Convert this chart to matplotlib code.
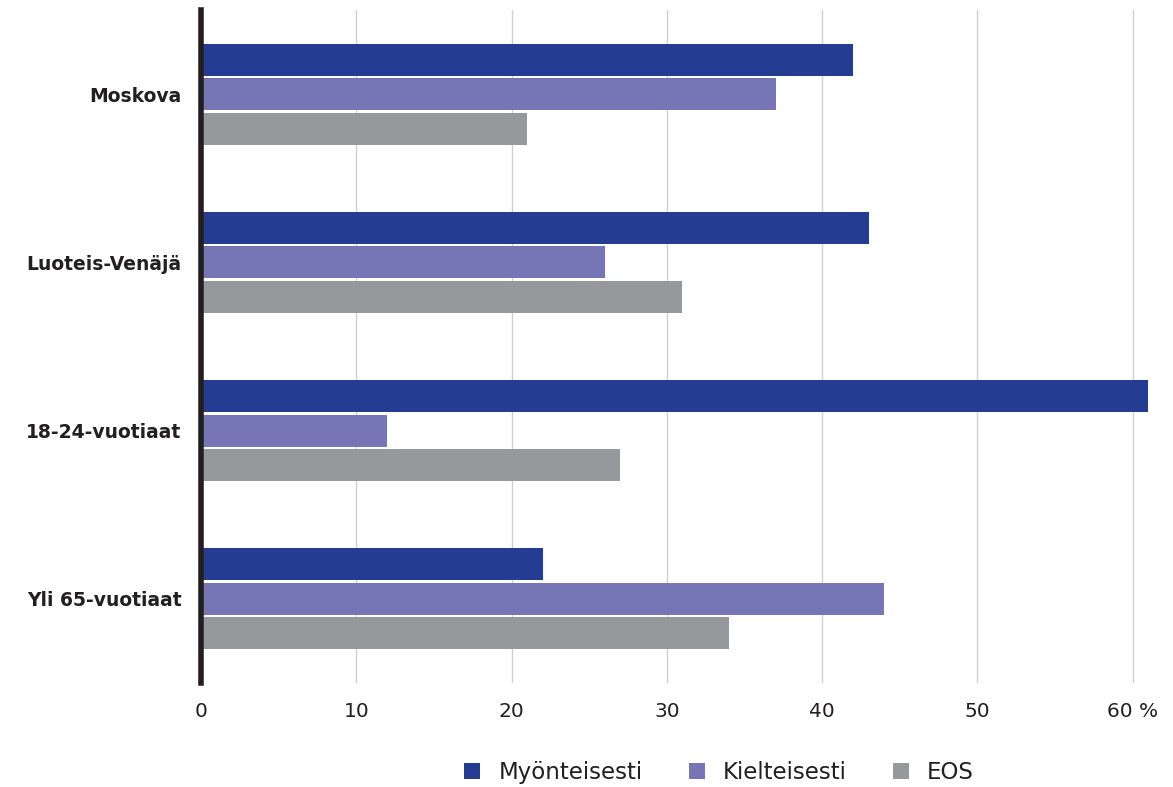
import matplotlib
matplotlib.use("Agg")
import matplotlib.pyplot as plt
import numpy as np

# Data (%)
categories = ["Moskova", "Luoteis-Venäjä", "18-24-vuotiaat", "Yli 65-vuotiaat"]
series_names = ["Myönteisesti", "Kielteisesti", "EOS"]
myonteisesti = [42, 43, 61, 22]
kielteisesti = [37, 26, 12, 44]
eos = [21, 31, 27, 34]
colors = ["#243c92", "#7676b6", "#97989b"]
xticks = [0, 10, 20, 30, 40, 50, 60]
xticklabels = ["0", "10", "20", "30", "40", "50", "60 %"]

plt.rcParams['font.family'] = ['DejaVu Sans']

fig = plt.figure(figsize=(11.73, 7.87), dpi=100)
ax = fig.add_axes([0.1714, 0.1322, 0.826, 0.8551])

y = np.arange(len(categories))
bar_h = 0.19
step = 0.205
for i, (vals, name) in enumerate(zip([myonteisesti, kielteisesti, eos], series_names)):
    ax.barh(y + (i - 1) * step, vals, height=bar_h, color=colors[i], label=name, zorder=3)

ax.set_ylim(3.5, -0.5)
ax.set_xlim(0, 62.4)
ax.set_yticks(y)
ax.set_yticklabels(categories, fontsize=13.5, fontweight='bold', color='#231f20')
ax.set_xticks(xticks)
ax.set_xticklabels(xticklabels, fontsize=14.5, color='#231f20')
ax.tick_params(axis='both', length=0)
ax.tick_params(axis='x', pad=14)
ax.tick_params(axis='y', pad=14)

ax.grid(axis='x', color='#d0d0d0', linewidth=1, zorder=0)
for s in ['top', 'right', 'bottom']:
    ax.spines[s].set_visible(False)
ax.spines['left'].set_linewidth(4)
ax.spines['left'].set_color('#231f20')
ax.spines['left'].set_zorder(5)

fig.legend(loc='center', bbox_to_anchor=(0.613, 0.018), ncol=3, frameon=False,
           fontsize=16.5, handlelength=0.7, handleheight=0.7, handletextpad=0.8,
           columnspacing=2.0, labelcolor='#231f20')

fig.savefig("out.png", dpi=100)
